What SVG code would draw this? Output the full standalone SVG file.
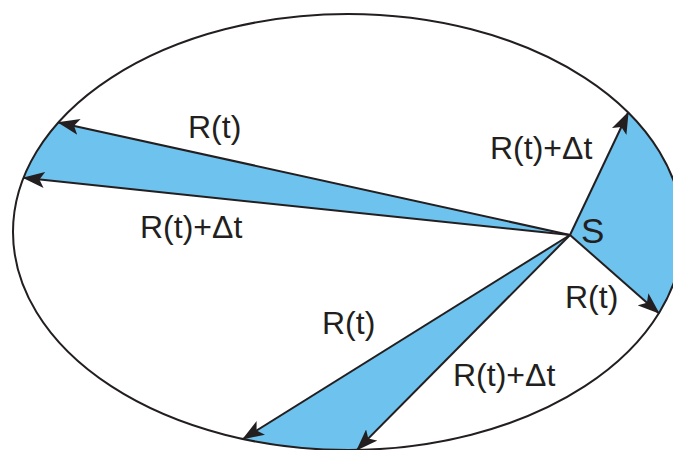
<svg xmlns="http://www.w3.org/2000/svg" width="673" height="450" viewBox="0 0 673 450">
<style>
.sector{fill:#6EC2EE;stroke:none}
.orbit{fill:none;stroke:#231F20;stroke-width:2}
.vec{stroke:#231F20;stroke-width:2;fill:none;marker-end:url(#arr)}
text{font-family:"Liberation Sans",Arial,sans-serif;font-size:32px;fill:#231F20}
.big{font-size:35px}
</style>
<defs>
<marker id="arr" markerUnits="userSpaceOnUse" markerWidth="22" markerHeight="16" viewBox="0 0 22 16" refX="21" refY="8" orient="auto">
<path d="M0,0 L22,8 L0,16 L5,8 Z" fill="#231F20"/>
</marker>
</defs>
<rect width="673" height="450" fill="#ffffff"/>
<g id="sectors">
<path class="sector" d="M570,235 L58.4,122.4 A335,218 0 0 0 23.5,177.8 Z"/>
<path class="sector" d="M570,235 L628.2,112.5 A335,218 0 0 1 658.9,313.2 Z"/>
<path class="sector" d="M570,235 L243,439 A335,218 0 0 0 357,449.9 Z"/>
</g>
<g id="orbit">
<ellipse class="orbit" cx="348" cy="232" rx="335" ry="218"/>
</g>
<g id="connectors">
<line class="vec" x1="570" y1="235" x2="58.4" y2="122.4"/>
<line class="vec" x1="570" y1="235" x2="23.5" y2="177.8"/>
<line class="vec" x1="570" y1="235" x2="628.2" y2="112.5"/>
<line class="vec" x1="570" y1="235" x2="658.9" y2="313.2"/>
<line class="vec" x1="570" y1="235" x2="243" y2="439"/>
<line class="vec" x1="570" y1="235" x2="357" y2="449.9"/>
</g>
<g id="labels">
<text x="188" y="138">R(t)</text>
<text x="140" y="238">R(t)+Δt</text>
<text x="490" y="159">R(t)+Δt</text>
<text class="big" x="581" y="243">S</text>
<text x="565" y="308">R(t)</text>
<text x="322" y="334">R(t)</text>
<text x="453" y="386">R(t)+Δt</text>
</g>
</svg>
